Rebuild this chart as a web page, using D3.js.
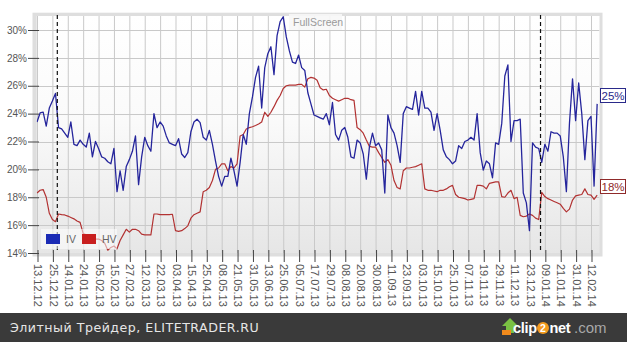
<!DOCTYPE html>
<html>
<head>
<meta charset="utf-8">
<script src="https://cdn.jsdelivr.net/npm/d3@7"></script>
<style>
  html, body { margin: 0; padding: 0; background: #fff; }
  svg { display: block; }
</style>
</head>
<body>
<svg id="chart" width="627" height="342"></svg>
<script>
// Tick dates on the trading-day axis (one label every 5 sessions)
const tickDates = ["13.12.12","25.12.12","14.01.13","24.01.13","05.02.13","15.02.13","27.02.13","12.03.13","22.03.13","03.04.13","15.04.13","25.04.13","08.05.13","21.05.13","31.05.13","13.06.13","25.06.13","05.07.13","17.07.13","29.07.13","08.08.13","20.08.13","30.08.13","11.09.13","23.09.13","03.10.13","15.10.13","25.10.13","07.11.13","19.11.13","29.11.13","11.12.13","23.12.13","09.01.14","21.01.14","31.01.14","12.02.14"];
const tickStep = 5;

// Implied volatility, %
const ivValues = [
 23.4,24.05,24.1,23.1,24.4,24.9,25.45,23.0,22.9,22.6,
 22.3,23.4,21.8,21.7,22.1,21.8,21.6,22.6,20.9,22.0,
 21.5,20.9,20.8,20.55,20.4,21.5,18.4,19.9,18.5,20.2,
 20.7,21.3,22.4,18.9,20.9,22.3,21.7,21.3,24.0,23.0,
 23.4,23.1,22.4,21.9,21.8,21.7,22.2,21.1,20.85,21.2,
 22.7,23.4,23.6,23.35,22.3,22.1,22.8,21.8,20.6,19.5,
 18.8,19.5,19.5,20.8,19.9,18.8,20.5,22.5,21.8,24.0,
 25.2,26.6,27.4,24.4,27.3,28.3,28.8,26.8,29.6,30.6,
 30.95,29.5,28.5,27.7,27.6,28.2,27.3,27.1,25.5,24.7,
 23.9,23.8,23.7,23.6,24.0,23.2,24.8,22.5,22.1,22.8,
 23.0,22.3,20.9,20.8,22.1,21.9,21.1,19.3,21.6,22.6,
 21.7,21.9,21.4,18.3,23.9,23.0,22.6,21.7,20.5,24.0,
 24.5,24.4,24.3,25.6,23.9,25.6,24.4,24.4,24.1,22.8,
 24.0,22.8,21.4,20.9,20.7,20.4,20.6,21.7,21.5,22.0,
 22.1,22.3,22.1,24.0,21.2,19.95,20.6,20.4,19.4,21.9,
 21.8,23.3,26.7,27.5,22.0,23.5,23.5,23.6,18.3,17.6,
 15.6,21.9,21.6,21.5,20.5,21.8,21.3,22.7,22.6,22.6,
 22.4,20.9,18.4,23.3,26.5,23.5,26.2,24.0,20.7,23.5,
 23.8,18.8,24.7
];

// Historical volatility, %
const hvValues = [
 18.3,18.5,18.55,18.0,16.85,16.4,16.25,16.8,16.75,16.73,
 16.65,16.55,16.45,16.3,16.2,15.4,15.3,15.2,15.1,15.0,
 15.0,14.9,14.7,14.2,14.4,14.5,14.3,14.9,15.3,15.7,
 15.5,15.7,15.7,15.6,15.35,15.3,15.3,15.3,16.8,16.8,
 16.75,16.75,16.75,16.75,16.78,15.6,15.55,15.6,15.75,15.95,
 16.5,16.75,16.85,16.95,18.4,18.5,18.7,19.2,20.0,20.1,
 20.4,20.4,19.9,20.2,20.1,20.4,22.4,22.5,22.9,23.0,
 23.06,23.15,23.25,23.4,24.1,23.8,24.1,24.5,24.95,25.3,
 25.8,26.0,26.05,26.05,26.05,26.1,26.1,25.9,26.5,26.6,
 26.55,26.4,25.85,25.7,25.75,25.3,25.1,25.0,24.9,25.0,
 25.1,25.1,25.0,24.95,23.0,22.85,22.6,22.1,21.65,21.6,
 21.6,21.2,20.85,20.5,20.7,20.3,19.2,18.7,18.6,19.9,
 20.1,20.1,20.15,20.2,20.3,20.4,18.6,18.5,18.5,18.45,
 18.4,18.5,18.5,18.6,18.75,18.85,18.2,18.0,17.95,17.9,
 17.8,17.85,17.9,18.85,18.85,18.8,18.6,19.0,19.05,19.1,
 19.1,18.05,18.0,18.3,18.5,17.9,18.0,16.7,16.6,16.65,
 16.8,16.7,16.5,16.4,18.35,18.05,17.9,17.8,17.7,17.6,
 17.5,17.2,16.95,17.15,17.8,18.1,18.15,18.2,18.6,18.2,
 18.15,17.85,18.15
];

// Session positions of the two marked events (dashed verticals)
const eventSessions = [6.6, 163.6];

const yTicks = [14, 16, 18, 20, 22, 24, 26, 28, 30];
const seriesNames = ["IV", "HV"];

const svg = d3.select("#chart");

// Layout
const plot = { left: 36.7, right: 599.5, top: 16, bottom: 253 };
const frame = { left: 32.5, right: 602.5, top: 12.7, bottom: 256.5 };

const x = d3.scaleLinear().domain([0, (tickDates.length - 1) * tickStep]).range([37, 591]);
const y = d3.scaleLinear().domain([14, 30]).range([253, 30]);

const defs = svg.append("defs");
const grad = defs.append("linearGradient").attr("id", "bg").attr("x1", 0).attr("y1", 0).attr("x2", 0).attr("y2", 1);
grad.append("stop").attr("offset", "0%").attr("stop-color", "#ffffff");
grad.append("stop").attr("offset", "45%").attr("stop-color", "#fafafa");
grad.append("stop").attr("offset", "100%").attr("stop-color", "#e6e6e6");
defs.append("clipPath").attr("id", "plotClip").append("rect")
  .attr("x", plot.left).attr("y", plot.top)
  .attr("width", plot.right - plot.left).attr("height", plot.bottom - plot.top);

// Frame and plot background
svg.append("rect")
  .attr("x", frame.left).attr("y", frame.top)
  .attr("width", frame.right - frame.left).attr("height", frame.bottom - frame.top)
  .attr("fill", "#dedede");
svg.append("rect")
  .attr("x", plot.left).attr("y", plot.top)
  .attr("width", plot.right - plot.left).attr("height", plot.bottom - plot.top)
  .attr("fill", "url(#bg)");

// Grid
const tickIdx = tickDates.map((d, i) => i * tickStep);
const grid = svg.append("g").attr("clip-path", "url(#plotClip)");
grid.selectAll("line.v").data(tickIdx).join("line")
  .attr("x1", d => x(d) + 0.5).attr("x2", d => x(d) + 0.5)
  .attr("y1", plot.top).attr("y2", plot.bottom)
  .attr("stroke", "#c9c9c9").attr("stroke-width", 1);
grid.selectAll("line.h").data(yTicks).join("line")
  .attr("x1", plot.left).attr("x2", plot.right)
  .attr("y1", d => Math.round(y(d)) + 0.5).attr("y2", d => Math.round(y(d)) + 0.5)
  .attr("stroke", "#c9c9c9").attr("stroke-width", 1);

// FullScreen button
svg.append("rect").attr("x", 289).attr("y", 14).attr("width", 53).attr("height", 16)
  .attr("fill", "#f7f7f7").attr("opacity", 0.9);
svg.append("text").attr("x", 293).attr("y", 26)
  .attr("font-family", "Liberation Sans, Arial, sans-serif").attr("font-size", 10.5)
  .attr("fill", "#9a9a9a").text("FullScreen");

// Y axis
const yAxis = svg.append("g").attr("transform", `translate(${39},0)`)
  .call(d3.axisLeft(y).tickValues(yTicks).tickSize(11).tickPadding(1).tickFormat(d => d + "%"));
yAxis.select(".domain").remove();
yAxis.selectAll(".tick line").attr("stroke", "#444");
yAxis.selectAll("text")
  .attr("font-family", "Liberation Sans, Arial, sans-serif").attr("font-size", 10)
  .attr("fill", "#555");

// X axis
const xAxis = svg.append("g").attr("transform", `translate(0.5,${250})`)
  .call(d3.axisBottom(x).tickValues(tickIdx).tickSize(12).tickFormat((d, i) => tickDates[i]));
xAxis.select(".domain").remove();
xAxis.selectAll(".tick line").attr("stroke", "#444");
xAxis.selectAll("text")
  .attr("font-family", "Liberation Sans, Arial, sans-serif").attr("font-size", 11)
  .attr("fill", "#555")
  .attr("text-anchor", "start")
  .attr("transform", "translate(0,14) rotate(90)")
  .attr("x", 0).attr("y", 0).attr("dy", "0.35em")
  .attr("dx", "0");

// Series lines
const line = d3.line().x((d, i) => x(i)).y(d => y(d));
const lines = svg.append("g").attr("clip-path", "url(#plotClip)");
lines.append("path").datum(hvValues).attr("d", line)
  .attr("fill", "none").attr("stroke", "#b23232").attr("stroke-width", 1.2).attr("stroke-linejoin", "round");
lines.append("path").datum(ivValues).attr("d", line)
  .attr("fill", "none").attr("stroke", "#25259c").attr("stroke-width", 1.3).attr("stroke-linejoin", "round");

// Event markers
svg.selectAll("line.event").data(eventSessions).join("line")
  .attr("x1", d => x(d)).attr("x2", d => x(d))
  .attr("y1", plot.top - 1).attr("y2", plot.bottom)
  .attr("stroke", "#111").attr("stroke-width", 1.2).attr("stroke-dasharray", "4,3");

// Legend
const legend = svg.append("g");
legend.append("rect").attr("x", 41).attr("y", 229).attr("width", 76).attr("height", 20)
  .attr("fill", "#ffffff").attr("opacity", 0.55);
const legendColors = ["#1b2bb5", "#c81f1f"];
seriesNames.forEach((name, i) => {
  const lx = 46 + i * 36;
  legend.append("rect").attr("x", lx).attr("y", 234).attr("width", 14).attr("height", 10)
    .attr("fill", legendColors[i]);
  legend.append("text").attr("x", lx + 20).attr("y", 243)
    .attr("font-family", "Liberation Sans, Arial, sans-serif").attr("font-size", 10.5)
    .attr("fill", "#666").text(name);
});

// Last-value flags
const lastFlags = [
  { value: ivValues[ivValues.length - 1], color: "#2a2a8a" },
  { value: hvValues[hvValues.length - 1], color: "#8f2a2a" }
];
lastFlags.forEach(f => {
  const top = Math.round(y(f.value)) - 16;
  svg.append("rect").attr("x", 600.5).attr("y", top + 0.5).attr("width", 25).attr("height", 14)
    .attr("fill", "#fff").attr("stroke", f.color).attr("stroke-width", 1);
  svg.append("text").attr("x", 613).attr("y", top + 11.5).attr("text-anchor", "middle")
    .attr("font-family", "Liberation Sans, Arial, sans-serif").attr("font-size", 11.5)
    .attr("fill", f.color).text(d3.format(".0f")(f.value) + "%");
});

// Footer band
svg.append("rect").attr("x", 0).attr("y", 313).attr("width", 627).attr("height", 29).attr("fill", "#3a3a3a");
svg.append("text").attr("x", 10).attr("y", 332)
  .attr("font-family", "DejaVu Sans, sans-serif").attr("font-size", 12.6)
  .attr("letter-spacing", 0.5)
  .attr("fill", "#e6e6e6").text("Элитный Трейдер, ELITETRADER.RU");

// clip2net mark
const logo = svg.append("g");
logo.append("path")
  .attr("d", "M510 318 L518 326 L514 326 L514 333 L506 333 L506 326 L502 326 Z")
  .attr("fill", "#7ac143");
logo.append("rect").attr("x", 502).attr("y", 330).attr("width", 9).attr("height", 5).attr("fill", "#f08a1c");
logo.append("text").attr("x", 513).attr("y", 333)
  .attr("font-family", "Liberation Sans, Arial, sans-serif").attr("font-size", 14.5).attr("font-weight", "bold")
  .attr("letter-spacing", -0.3)
  .attr("fill", "#ffffff").text("clip");
logo.append("circle").attr("cx", 543).attr("cy", 328).attr("r", 6).attr("fill", "#f39a1e");
logo.append("text").attr("x", 543).attr("y", 332).attr("text-anchor", "middle")
  .attr("font-family", "Liberation Sans, Arial, sans-serif").attr("font-size", 10.5).attr("font-weight", "bold")
  .attr("fill", "#ffffff").text("2");
logo.append("text").attr("x", 549.5).attr("y", 333)
  .attr("font-family", "Liberation Sans, Arial, sans-serif").attr("font-size", 14.5).attr("font-weight", "bold")
  .attr("letter-spacing", -0.3)
  .attr("fill", "#ffffff").text("net");
logo.append("text").attr("x", 574).attr("y", 333)
  .attr("font-family", "Liberation Sans, Arial, sans-serif").attr("font-size", 15)
  .attr("fill", "#a8a8a8").text(".com");
</script>
</body>
</html>
